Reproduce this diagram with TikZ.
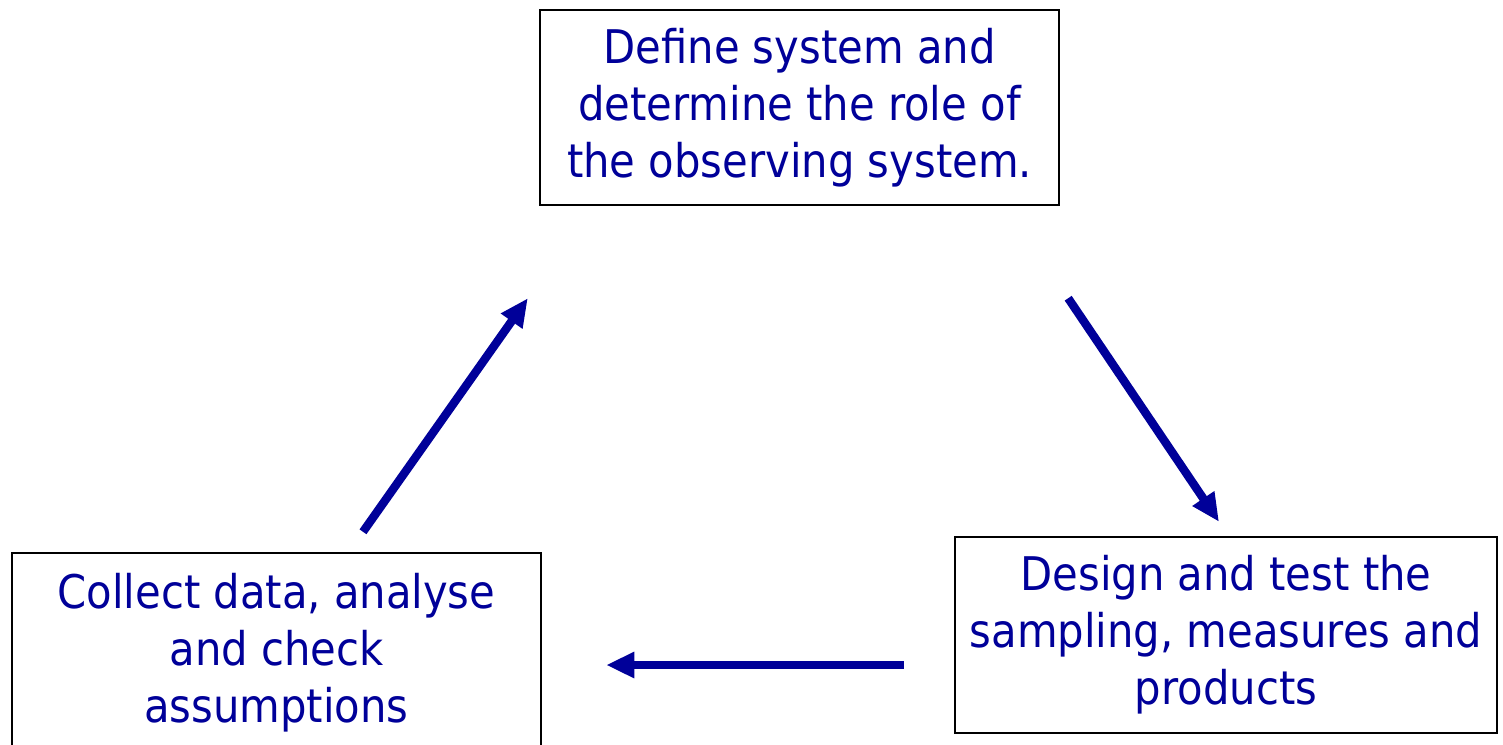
\documentclass[tikz,border=0pt]{standalone}
\usepackage{fontspec}
\setmainfont{DejaVu Sans Condensed}
\usepackage{xcolor}
\usetikzlibrary{arrows.meta,calc}

\definecolor{navy}{HTML}{000099}

\tikzset{
	stage/.style={draw=black, line width=1.4pt, text=navy, align=center,
		inner sep=0pt, font=\fontsize{26.4}{32.4}\selectfont},
	flow/.style={draw=navy, line width=4.8pt,
		-{Triangle[length=16pt, width=14pt]}}
}

\begin{document}
\begin{tikzpicture}[x=0.02cm, y=-0.02cm]
		\useasboundingbox (0,0) rectangle (1503,744);
		
		\node[stage, minimum width=10.38cm, minimum height=3.9cm] (define) at (799.5,107.5)
			{Define system and\\determine the role of\\the observing system.};
		\node[stage, minimum width=10.84cm, minimum height=3.92cm] (design) at (1226,635)
			{Design and test the\\sampling, measures and\\products};
		\node[stage, minimum width=10.58cm, minimum height=4cm] (collect) at (276.5,653)
			{Collect data, analyse\\and check\\assumptions};
		
		\draw[flow] ($(define.south east)+(8,92)$) -- ($(design.north)+(-7,-14)$);
		\draw[flow] ($(design.west)+(-50,30)$) -- ($(collect.east)+(64,12)$);
		\draw[flow] ($(collect.north)+(86.5,-20)$) -- ($(define.south west)+(-11,92)$);
\end{tikzpicture}
\end{document}
